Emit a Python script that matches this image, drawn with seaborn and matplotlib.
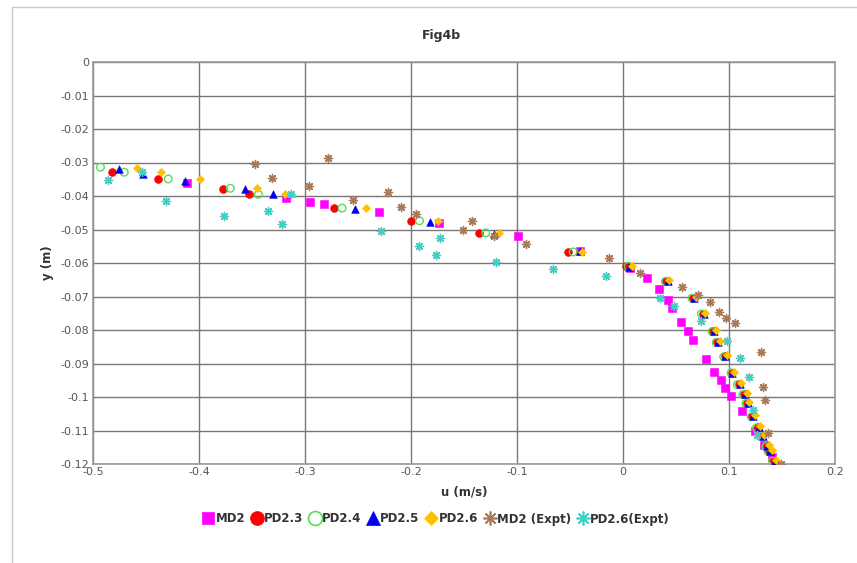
import numpy as np
import pandas as pd
import seaborn as sns
import matplotlib
matplotlib.use("Agg")
import matplotlib.pyplot as plt
from matplotlib.lines import Line2D
from matplotlib.patches import Rectangle

# ---------------- data ----------------
md2_u = [-0.411, -0.318, -0.295, -0.282, -0.230, -0.174, -0.099, -0.041, 0.007, 0.023,
         0.034, 0.042, 0.046, 0.055, 0.061, 0.066, 0.078, 0.086, 0.092, 0.0965,
         0.102, 0.112, 0.1245, 0.133, 0.141]
md2_y = [-0.0361, -0.0405, -0.0418, -0.0423, -0.0447, -0.0480, -0.0518, -0.0563, -0.0616, -0.0644,
         -0.0679, -0.0711, -0.0735, -0.0776, -0.0802, -0.0830, -0.0886, -0.0924, -0.0950, -0.0974,
         -0.0996, -0.1043, -0.1100, -0.1143, -0.1180]

pd23_u = [-0.482, -0.439, -0.377, -0.353, -0.273, -0.200, -0.136, -0.052, 0.003,
          0.041, 0.066, 0.075, 0.085, 0.089, 0.096, 0.103, 0.109, 0.114, 0.117,
          0.122, 0.127, 0.131, 0.136, 0.138, 0.142]
pd23_y = [-0.0329, -0.0349, -0.0378, -0.0395, -0.0437, -0.0475, -0.0510, -0.0567, -0.0608,
          -0.0654, -0.0704, -0.0751, -0.0804, -0.0836, -0.0879, -0.0927, -0.0962, -0.0992, -0.1018,
          -0.1058, -0.1091, -0.1117, -0.1147, -0.1162, -0.1191]

pd24_u = [-0.493, -0.4705, -0.429, -0.3705, -0.344, -0.265, -0.192, -0.1295, -0.047, 0.005,
          0.040, 0.065, 0.074, 0.084, 0.088, 0.095, 0.102, 0.108, 0.113, 0.116,
          0.121, 0.126, 0.130, 0.135, 0.137, 0.141]
pd24_y = [-0.0314, -0.0329, -0.0349, -0.0377, -0.0395, -0.0436, -0.0474, -0.0510, -0.0567, -0.0610,
          -0.0655, -0.0705, -0.0752, -0.0805, -0.0837, -0.0880, -0.0928, -0.0963, -0.0993, -0.1019,
          -0.1059, -0.1092, -0.1118, -0.1148, -0.1163, -0.1192]

pd25_u = [-0.4755, -0.4525, -0.4132, -0.357, -0.3305, -0.2528, -0.182, -0.122, -0.041, 0.006,
          0.042, 0.067, 0.076, 0.086, 0.090, 0.096, 0.103, 0.110, 0.115, 0.118,
          0.123, 0.128, 0.132, 0.136, 0.139, 0.143]
pd25_y = [-0.0319, -0.0333, -0.0354, -0.0380, -0.0395, -0.0438, -0.0477, -0.0512, -0.0565, -0.0612,
          -0.0654, -0.0704, -0.0751, -0.0804, -0.0836, -0.0879, -0.0927, -0.0962, -0.0992, -0.1018,
          -0.1058, -0.1091, -0.1117, -0.1147, -0.1162, -0.1191]

pd26_u = [-0.4588, -0.4361, -0.3994, -0.3456, -0.3186, -0.2427, -0.1742, -0.117, -0.0387, 0.0088,
          0.0437, 0.0689, 0.0777, 0.0878, 0.0916, 0.0982, 0.1051, 0.1114, 0.1167, 0.1192,
          0.1246, 0.1296, 0.1334, 0.1381, 0.1403, 0.1444]
pd26_y = [-0.0317, -0.0329, -0.0350, -0.0376, -0.0395, -0.0437, -0.0475, -0.0510, -0.0566, -0.0608,
          -0.0651, -0.0701, -0.0748, -0.0801, -0.0833, -0.0876, -0.0924, -0.0959, -0.0989, -0.1015,
          -0.1055, -0.1088, -0.1114, -0.1144, -0.1159, -0.1188]

md2x_u = [-0.3475, -0.331, -0.296, -0.2786, -0.255, -0.222, -0.209, -0.1956, -0.1506, -0.1422,
          -0.1217, -0.0912, -0.0132, 0.016, 0.0553, 0.071, 0.0821, 0.0906, 0.0972, 0.1057,
          0.1299, 0.1324, 0.1343, 0.1371, 0.149]
md2x_y = [-0.0304, -0.0345, -0.0370, -0.0288, -0.0412, -0.0387, -0.0432, -0.0455, -0.0501, -0.0474,
          -0.0519, -0.0543, -0.0584, -0.0629, -0.0672, -0.0696, -0.0715, -0.0745, -0.0763, -0.0780,
          -0.0866, -0.0969, -0.1010, -0.1108, -0.1200]

pd26x_u = [-0.4856, -0.4541, -0.4314, -0.3761, -0.3349, -0.322, -0.3135, -0.2286, -0.1928, -0.1767,
           -0.1726, -0.1195, -0.0663, -0.0163, 0.0349, 0.0481, 0.0736, 0.0978, 0.1104, 0.1189,
           0.1229, 0.1267]
pd26x_y = [-0.0352, -0.0329, -0.0416, -0.0461, -0.0445, -0.0483, -0.0394, -0.0505, -0.0548, -0.0575,
           -0.0526, -0.0596, -0.0619, -0.0638, -0.0705, -0.0728, -0.0773, -0.0832, -0.0883, -0.0941,
           -0.1039, -0.1113]

x_ticks = [-0.5, -0.4, -0.3, -0.2, -0.1, 0, 0.1, 0.2]
x_labels = ["-0.5", "-0.4", "-0.3", "-0.2", "-0.1", "0", "0.1", "0.2"]
y_ticks = [0, -0.01, -0.02, -0.03, -0.04, -0.05, -0.06, -0.07, -0.08, -0.09, -0.10, -0.11, -0.12]
y_labels = ["0", "-0.01", "-0.02", "-0.03", "-0.04", "-0.05", "-0.06", "-0.07", "-0.08",
            "-0.09", "-0.1", "-0.11", "-0.12"]

# ---------------- style ----------------
sns.set_style("white")
plt.rcParams['font.family'] = ['DejaVu Sans']
plt.rcParams['axes.unicode_minus'] = False

fig = plt.figure(figsize=(8.57, 5.63), dpi=100)
ax = fig.add_axes([93/857, 1-464/563, (835-93)/857, (464-62)/563])

# outer frame
fig.patches.append(Rectangle((12/857, -0.05), 1.0, 1 - 7/563 + 0.05, transform=fig.transFigure,
                             fill=False, edgecolor="#c8c8c8", linewidth=1.0))

series = [
    ("MD2", md2_u, md2_y, dict(marker="s", color="#ff00ff", s=30, edgecolor="#ff00ff", linewidth=0.4)),
    ("PD2.3", pd23_u, pd23_y, dict(marker="o", color="#ff0000", s=32, edgecolor="#ff0000", linewidth=0.4)),
    ("PD2.4", pd24_u, pd24_y, dict(marker="o", facecolors="none", edgecolor="#55dd55", s=30, linewidth=1.0)),
    ("PD2.5", pd25_u, pd25_y, dict(marker="^", color="#0000ee", s=30, edgecolor="#0000ee", linewidth=0.4)),
    ("PD2.6", pd26_u, pd26_y, dict(marker="D", color="#ffc000", s=18, edgecolor="#ffc000", linewidth=0.4)),
    ("MD2 (Expt)", md2x_u, md2x_y, dict(marker=(8, 2, 0), color="#a87a58", s=34, edgecolor="#a87a58", linewidth=1.0)),
    ("PD2.6(Expt)", pd26x_u, pd26x_y, dict(marker=(8, 2, 0), color="#45cdc5", s=34, edgecolor="#45cdc5", linewidth=1.0)),
]

for name, u, y, kw in series:
    df = pd.DataFrame({"u": u, "y": y})
    sns.scatterplot(data=df, x="u", y="y", ax=ax, legend=False, zorder=3, **kw)

ax.set_xlim(-0.5, 0.2)
ax.set_ylim(-0.12, 0)
ax.set_xticks(x_ticks)
ax.set_xticklabels(x_labels)
ax.set_yticks(y_ticks)
ax.set_yticklabels(y_labels)
ax.set_xticks(np.arange(-0.45, 0.2, 0.1), minor=True)
ax.set_yticks(np.arange(-0.115, 0, 0.01), minor=True)
ax.grid(True, which="major", color="#777777", linewidth=1.0)
ax.set_axisbelow(True)
for sp in ax.spines.values():
    sp.set_color("#999999")
    sp.set_linewidth(1.2)
ax.tick_params(axis="both", which="major", length=3, width=1, color="#555555",
               labelsize=8, labelcolor="#555555", pad=1, direction="inout")
ax.tick_params(axis="both", which="minor", length=3, width=1, color="#555555", direction="inout")

ax.set_xlabel("u (m/s)", fontsize=8.5, fontweight="bold", color="#333333", labelpad=6)
ax.set_ylabel("y (m)", fontsize=8.5, fontweight="bold", color="#333333", labelpad=5)

fig.text(441/857, 1 - 36/563, "Fig4b", ha="center", va="center", fontsize=9,
         fontweight="bold", color="#333333")

handles = []
for name, u, y, kw in series:
    mk = kw["marker"]
    ec = kw.get("edgecolor")
    fc = "none" if kw.get("facecolors") == "none" else kw.get("color")
    ms = {"s": 9, "o": 10, "^": 10, "D": 7}.get(mk if isinstance(mk, str) else "x", 10)
    handles.append(Line2D([], [], linestyle="none", marker=mk, markersize=ms,
                          markerfacecolor=fc, markeredgecolor=ec,
                          markeredgewidth=1.2 if fc == "none" or not isinstance(mk, str) else 0.5,
                          label=name))
leg = fig.legend(handles=handles, loc="center", bbox_to_anchor=(436/857, 1 - 519/563), ncol=7,
                 frameon=False, fontsize=8.5, handlelength=1.0, handletextpad=0.1,
                 columnspacing=0.5, borderpad=0)
for t in leg.get_texts():
    t.set_fontweight("bold")
    t.set_color("#333333")

fig.savefig("out.png", dpi=100, facecolor="white")
